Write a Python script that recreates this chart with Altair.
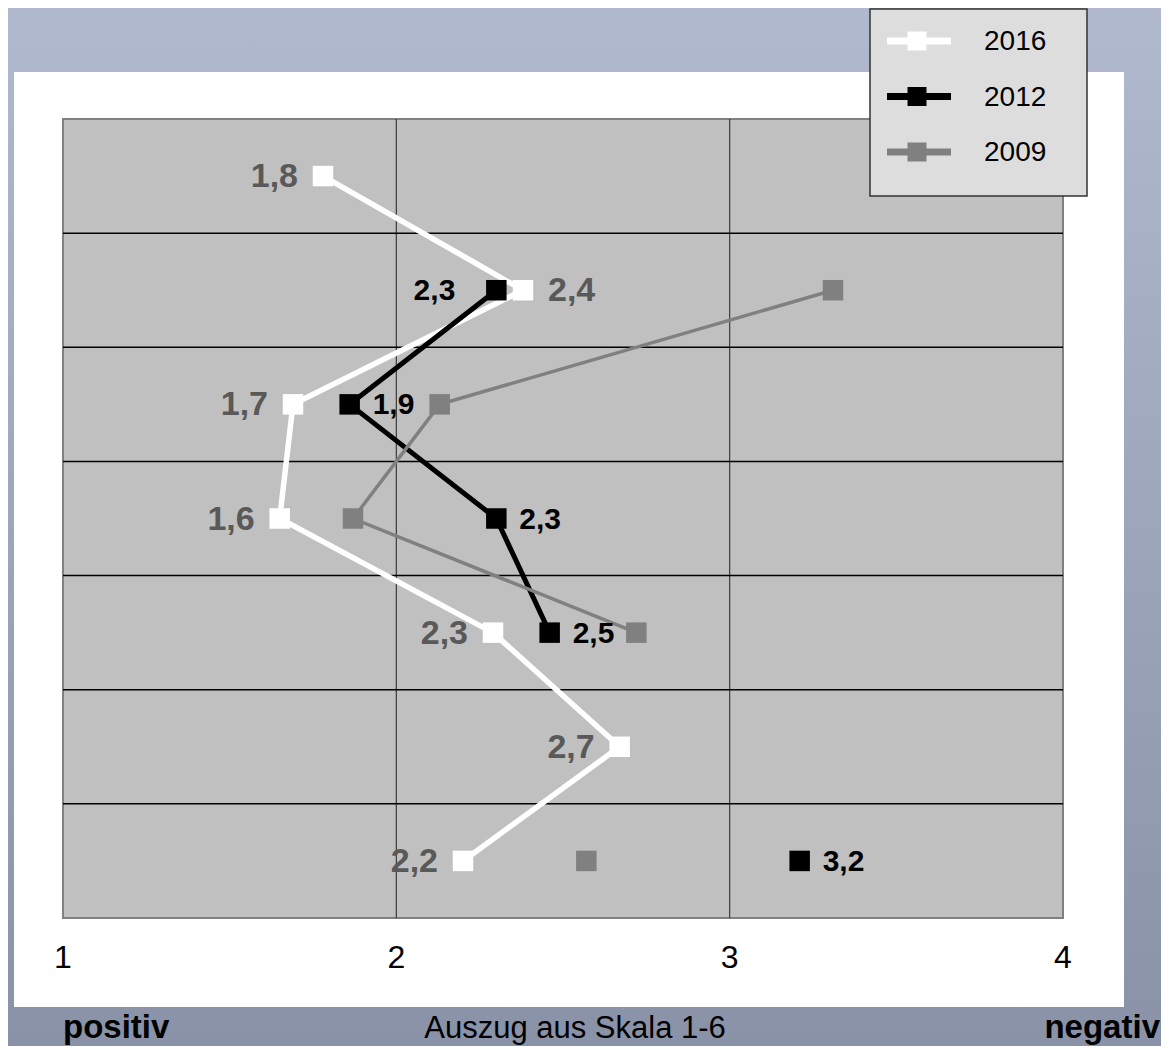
import altair as alt
import pandas as pd

# ---------------- data ----------------
rows = [1, 2, 3, 4, 5, 6, 7]
years = ["2016", "2012", "2009"]
values_2016 = [1.78, 2.38, 1.69, 1.65, 2.29, 2.67, 2.20]
values_2012 = [None, 2.30, 1.86, 2.30, 2.46, None, 3.21]
values_2009 = [None, 3.31, 2.13, 1.87, 2.72, None, 2.57]
labels_2016 = ["1,8", "2,4", "1,7", "1,6", "2,3", "2,7", "2,2"]
labels_2012 = [None, "2,3", "1,9", "2,3", "2,5", None, "3,2"]
labels_2009 = [None] * 7
right_label_rows_2016 = [2]   # rows whose label sits right of the marker
left_label_rows_2012 = [2]    # rows whose label sits left of the marker
x_ticks = [1, 2, 3, 4]
x_gridlines = [2, 3]
bottom_left = "positiv"
bottom_mid = "Auszug aus Skala 1-6"
bottom_right = "negativ"

colors = {"2016": "#FFFFFF", "2012": "#000000", "2009": "#808080"}
widths = {"2016": 5.5, "2012": 5, "2009": 3.5}

series = {"2016": (values_2016, labels_2016),
          "2012": (values_2012, labels_2012),
          "2009": (values_2009, labels_2009)}

recs = []
for yr, (vals, labs) in series.items():
    seg = 0
    prev = False
    for r, v, lab in zip(rows, vals, labs):
        if v is None:
            prev = False
            continue
        if not prev:
            seg += 1
        prev = True
        if yr == "2016":
            side = "r" if r in right_label_rows_2016 else "l"
        else:
            side = "l" if r in left_label_rows_2012 else "r"
        recs.append({"year": yr, "row": r, "ypos": r - 0.5, "v": v,
                     "label": lab, "seg": f"{yr}-{seg}", "side": side})
df = pd.DataFrame(recs)

W, H = 1000, 799
PL, PT, PR, PB = 55, 111, 98, 128

one = pd.DataFrame({"a": [0]})

xscale = alt.Scale(domain=[1, 4], nice=False, zero=False)
yscale = alt.Scale(domain=[0, 7], reverse=True, nice=False, zero=False)

bg = alt.Chart(one).mark_rect(
    fill=alt.Gradient(gradient="linear",
                      stops=[alt.GradientStop(color="#B1B9CF", offset=0),
                             alt.GradientStop(color="#8A92A8", offset=1)],
                      x1=0, x2=0, y1=0, y2=1)
).encode(x=alt.value(-PL), x2=alt.value(W + PR), y=alt.value(-PT), y2=alt.value(H + PB))

panel = alt.Chart(one).mark_rect(fill="#FFFFFF").encode(
    x=alt.value(-49), x2=alt.value(1061), y=alt.value(-47), y2=alt.value(888))

plotbg = alt.Chart(one).mark_rect(fill="#C0C0C0", stroke="#808080", strokeWidth=2).encode(
    x=alt.value(0), x2=alt.value(W), y=alt.value(0), y2=alt.value(H))

vgrid = alt.Chart(pd.DataFrame({"v": x_gridlines})).mark_rule(color="#3A3A3A", strokeWidth=1.2).encode(
    x=alt.X("v:Q", scale=xscale, axis=None))

hgrid = alt.Chart(pd.DataFrame({"r": rows[:-1]})).mark_rule(color="#000000", strokeWidth=1.5).encode(
    y=alt.Y("r:Q", scale=yscale, axis=None))

# x tick labels, placed through the x scale
ticklab = alt.Chart(pd.DataFrame({"v": x_ticks})).mark_text(
    align="center", baseline="alphabetic", fontSize=32, color="#000000", font="Liberation Sans"
).encode(x=alt.X("v:Q", scale=xscale, axis=None), y=alt.value(H + 50), text=alt.Text("v:Q", format="d"))

layers = [bg, panel, plotbg, vgrid, hgrid, ticklab]

for yr in ["2016", "2012", "2009"]:
    d = df[df.year == yr]
    base = alt.Chart(d).encode(
        x=alt.X("v:Q", scale=xscale, axis=None),
        y=alt.Y("ypos:Q", scale=yscale, axis=None))
    layers.append(base.mark_line(color=colors[yr], strokeWidth=widths[yr]).encode(
        detail="seg:N", order=alt.Order("row:Q")))
    layers.append(base.mark_square(color=colors[yr], size=420, opacity=1, filled=True))

# value labels
lab16 = df[df.year == "2016"]
lab12 = df[(df.year == "2012")]
def textlayer(d, align, dx, color, size):
    return alt.Chart(d).mark_text(align=align, baseline="middle", dx=dx, dy=1, color=color,
                                  fontSize=size, fontWeight="bold", font="Liberation Sans").encode(
        x=alt.X("v:Q", scale=xscale, axis=None),
        y=alt.Y("ypos:Q", scale=yscale, axis=None),
        text="label:N")

layers.append(textlayer(lab16[lab16.side == "l"], "right", -25, "#595959", 34))
layers.append(textlayer(lab16[lab16.side == "r"], "left", 25, "#595959", 34))
layers.append(textlayer(lab12[lab12.side == "l"], "right", -41, "#000000", 30))
layers.append(textlayer(lab12[lab12.side == "r"], "left", 23, "#000000", 30))

# legend
leg = pd.DataFrame({"year": years, "idx": list(range(len(years)))})
leg["ly"] = -78 + 55.5 * leg["idx"]
cscale = alt.Scale(domain=years, range=[colors[y] for y in years])
legbox = alt.Chart(one).mark_rect(fill="#DDDDDD", stroke="#333333", strokeWidth=1.5).encode(
    x=alt.value(807), x2=alt.value(1024), y=alt.value(-110), y2=alt.value(77))
legline = alt.Chart(leg).mark_rule(strokeWidth=7).encode(
    x=alt.value(824), x2=alt.value(888), y=alt.Y("ly:Q", scale=None),
    color=alt.Color("year:N", scale=cscale, legend=None))
legsq = alt.Chart(leg).mark_square(size=360, opacity=1, filled=True).encode(
    x=alt.value(854), y=alt.Y("ly:Q", scale=None),
    color=alt.Color("year:N", scale=cscale, legend=None))
legtxt = alt.Chart(leg).mark_text(align="left", baseline="middle", fontSize=28, dy=1,
                                  color="#000000", font="Liberation Sans").encode(
    x=alt.value(921), y=alt.Y("ly:Q", scale=None), text="year:N")
layers += [legbox, legline, legsq, legtxt]

# bottom texts
BY = 919
bl = alt.Chart(one).mark_text(text=bottom_left, align="left", baseline="alphabetic", fontSize=33,
                              fontWeight="bold", color="#000000", font="Liberation Sans").encode(
    x=alt.value(0), y=alt.value(BY))
bm = alt.Chart(one).mark_text(text=bottom_mid, align="center", baseline="alphabetic", fontSize=31,
                              color="#000000", font="Liberation Sans").encode(
    x=alt.value(512), y=alt.value(BY))
br = alt.Chart(one).mark_text(text=bottom_right, align="right", baseline="alphabetic", fontSize=33,
                              fontWeight="bold", color="#000000", font="Liberation Sans").encode(
    x=alt.value(1097), y=alt.value(BY))
layers += [bl, bm, br]

chart = alt.layer(*layers).properties(
    width=W, height=H,
    autosize=alt.AutoSizeParams(type="none"),
    padding={"left": PL, "top": PT, "right": PR, "bottom": PB}
).configure_view(stroke=None).configure(background="#FFFFFF")

chart.save("out.html", embed_options={"renderer": "svg", "actions": False})
